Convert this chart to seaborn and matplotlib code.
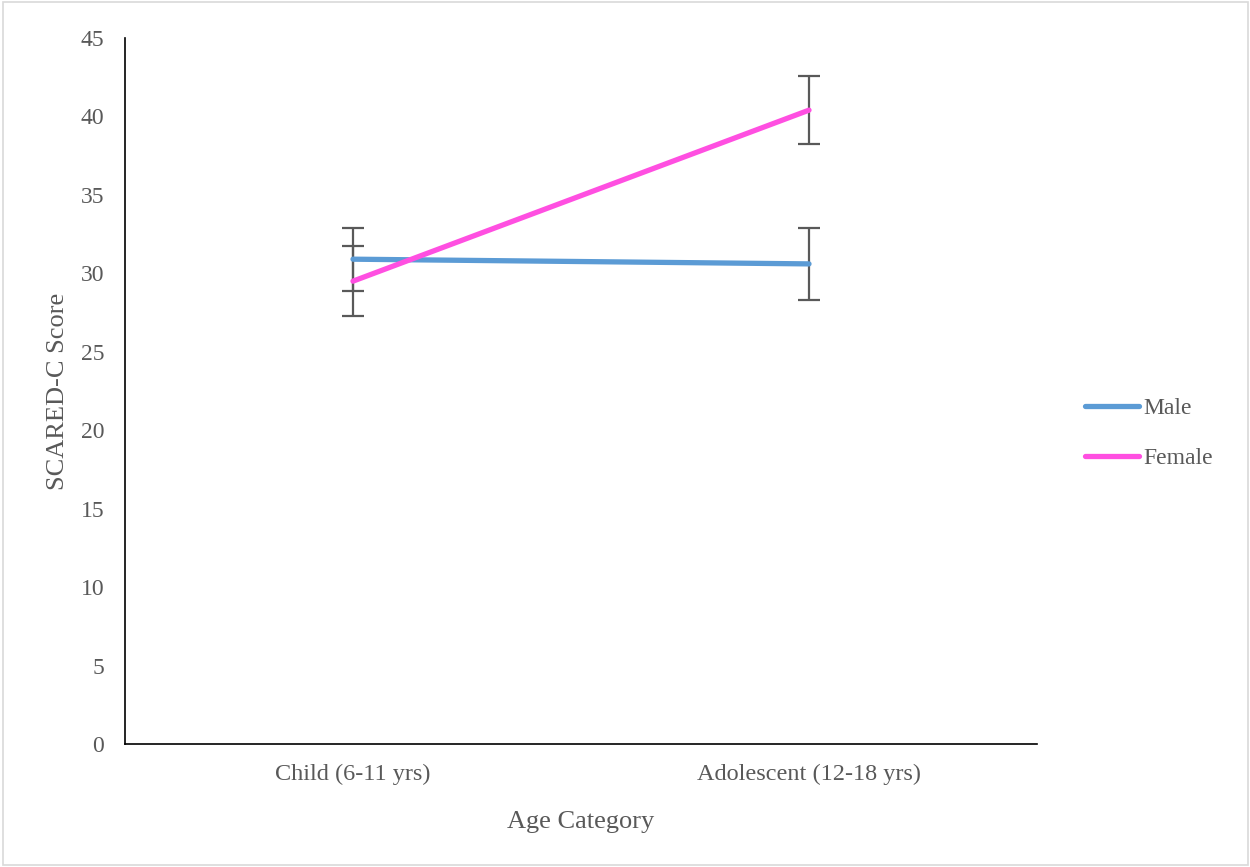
import pandas as pd
import matplotlib.pyplot as plt
import seaborn as sns
from matplotlib.patches import Rectangle

categorias = ['Child (6-11 yrs)', 'Adolescent (12-18 yrs)']
grupos = ['Male', 'Female']
media_male = [30.9, 30.6]
media_female = [29.5, 40.4]
error_male = [2.0, 2.3]
error_female = [2.25, 2.15]
colores = {'Male': '#5B9BD5', 'Female': '#FF4FE1'}

df = pd.DataFrame({
    'Age Category': categorias * 2,
    'Score': media_male + media_female,
    'Error': error_male + error_female,
    'Sex': ['Male'] * 2 + ['Female'] * 2,
})

sns.set_style('white')
plt.rcParams['font.family'] = ['Liberation Serif', 'DejaVu Serif']

fig = plt.figure(figsize=(12.5, 8.67), dpi=100)
ax = fig.add_axes([0.1, 0.1419, 0.7296, 0.8143])

# barras de error primero, las lineas encima
for sexo in grupos:
    sub = df[df['Sex'] == sexo]
    ax.errorbar(sub['Age Category'], sub['Score'], yerr=sub['Error'], fmt='none',
                ecolor='#595959', elinewidth=1.6, capsize=8, capthick=1.6, zorder=1)

sns.lineplot(ax=ax, data=df, x='Age Category', y='Score', hue='Sex', palette=colores,
             hue_order=grupos, sort=False, linewidth=3.8, zorder=3)

ax.set_xlim(-0.5, 1.5)
ax.set_ylim(0, 45)
ax.set_yticks(range(0, 46, 5))
ax.set_ylabel('SCARED-C Score', fontsize=19, color='#595959', labelpad=8)
ax.set_xlabel('Age Category', fontsize=19, color='#595959', labelpad=19)
ax.tick_params(axis='y', labelsize=17, labelcolor='#595959', length=0, pad=15)
ax.tick_params(axis='x', labelsize=17.5, labelcolor='#595959', length=0, pad=14)
for s in ['top', 'right']:
    ax.spines[s].set_visible(False)
for s in ['left', 'bottom']:
    ax.spines[s].set_color('black')
    ax.spines[s].set_linewidth(1.2)

leg = ax.legend(loc='center left', bbox_to_anchor=(1.029, 0.44), frameon=False,
                fontsize=17, handlelength=2.3, handletextpad=0.2, labelspacing=1.2)
for t in leg.get_texts():
    t.set_color('#595959')

fig.patches.append(Rectangle((0.002, 0.002), 0.996, 0.996, transform=fig.transFigure,
                             fill=False, edgecolor='#D9D9D9', linewidth=1.2))

plt.savefig('out.png', dpi=100)
